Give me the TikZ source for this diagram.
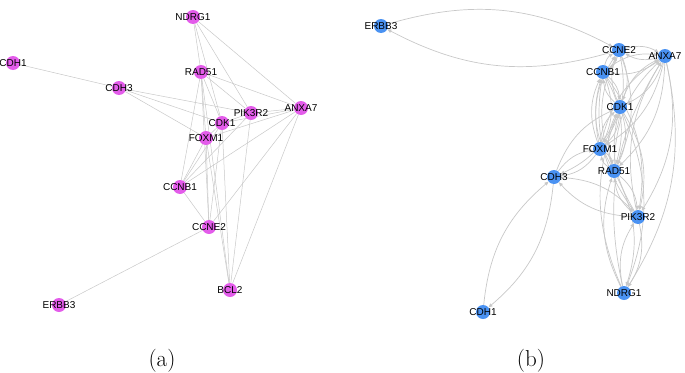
\documentclass[tikz,border=0pt]{standalone}
\usepackage{fontspec}
\setsansfont{Liberation Sans}
\usepackage{xcolor}
\usepackage{tikz}
\usetikzlibrary{arrows.meta, backgrounds}

\definecolor{genepink}{HTML}{E35CEA}
\definecolor{geneblue}{HTML}{4A92F2}
\definecolor{linkgray}{HTML}{C8C8C8}

\tikzset{
  gene/.style={circle, minimum size=14pt, inner sep=0pt, draw=none,
    label={[font=\sffamily\fontsize{10}{10}\selectfont, inner sep=0pt]center:#1}},
  geneA/.style={gene=#1, fill=genepink},
  geneB/.style={gene=#1, fill=geneblue},
  linkA/.style={draw=linkgray, line width=0.5pt},
  linkB/.style={draw=linkgray, line width=0.7pt,
    -{Triangle[length=4pt,width=3.5pt]}, bend left=22},
  caption/.style={font=\fontsize{23}{23}\selectfont, anchor=base}
}

\begin{document}
\begin{tikzpicture}[x=1pt, y=-1pt]
       \useasboundingbox (0,0) rectangle (685,372);

       % (a) undirected network
       \node[geneA=NDRG1]  (aNDRG1)  at (193,17)  {};
       \node[geneA=CDH1]   (aCDH1)   at (13,63)   {};
       \node[geneA=RAD51]  (aRAD51)  at (201,72)  {};
       \node[geneA=CDH3]   (aCDH3)   at (119,88)  {};
       \node[geneA=PIK3R2] (aPIK3R2) at (251,113) {};
       \node[geneA=ANXA7]  (aANXA7)  at (301,108) {};
       \node[geneA=CDK1]   (aCDK1)   at (222,123) {};
       \node[geneA=FOXM1]  (aFOXM1)  at (206,138) {};
       \node[geneA=CCNB1]  (aCCNB1)  at (180,187) {};
       \node[geneA=CCNE2]  (aCCNE2)  at (209,227) {};
       \node[geneA=BCL2]   (aBCL2)   at (230,290) {};
       \node[geneA=ERBB3]  (aERBB3)  at (59,305)  {};

       \begin{pgfonlayer}{background}
       \foreach \u/\v in {CDH1/CDH3, CDH3/PIK3R2, CDH3/CDK1, CDH3/FOXM1,
           NDRG1/RAD51, NDRG1/CDK1, NDRG1/PIK3R2, NDRG1/ANXA7,
           RAD51/ANXA7, RAD51/PIK3R2, RAD51/CDK1, RAD51/FOXM1, RAD51/CCNB1,
           RAD51/CCNE2, RAD51/BCL2, PIK3R2/ANXA7, PIK3R2/CDK1, PIK3R2/CCNB1,
           PIK3R2/BCL2, ANXA7/CDK1, ANXA7/FOXM1, ANXA7/CCNB1, ANXA7/BCL2,
           ANXA7/CCNE2, FOXM1/CCNB1, FOXM1/CCNE2, FOXM1/BCL2, CDK1/FOXM1,
           CDK1/CCNB1, CDK1/CCNE2, CDK1/BCL2, CCNB1/CCNE2, CCNE2/ERBB3}
         \draw[linkA] (a\u) -- (a\v);
       \end{pgfonlayer}

       % (b) directed network
       \node[geneB=ERBB3]  (bERBB3)  at (381,26)  {};
       \node[geneB=CCNE2]  (bCCNE2)  at (619,50)  {};
       \node[geneB=ANXA7]  (bANXA7)  at (665,56)  {};
       \node[geneB=CCNB1]  (bCCNB1)  at (603,72)  {};
       \node[geneB=CDK1]   (bCDK1)   at (620,107) {};
       \node[geneB=FOXM1]  (bFOXM1)  at (600,149) {};
       \node[geneB=RAD51]  (bRAD51)  at (614,171) {};
       \node[geneB=CDH3]   (bCDH3)   at (554,177) {};
       \node[geneB=PIK3R2] (bPIK3R2) at (638,217) {};
       \node[geneB=NDRG1]  (bNDRG1)  at (624,293) {};
       \node[geneB=CDH1]   (bCDH1)   at (483,312) {};

       \begin{pgfonlayer}{background}
       \foreach \u/\v in {CDH1/CDH3, CDH3/PIK3R2, CDH3/CDK1, CDH3/FOXM1,
           NDRG1/RAD51, NDRG1/CDK1, NDRG1/PIK3R2, NDRG1/ANXA7,
           RAD51/ANXA7, RAD51/PIK3R2, RAD51/CDK1, RAD51/FOXM1, RAD51/CCNB1,
           RAD51/CCNE2, PIK3R2/ANXA7, PIK3R2/CDK1, PIK3R2/CCNB1,
           ANXA7/CDK1, ANXA7/FOXM1, ANXA7/CCNB1, ANXA7/CCNE2,
           FOXM1/CCNB1, FOXM1/CCNE2, CDK1/FOXM1, CDK1/CCNB1, CDK1/CCNE2,
           CCNB1/CCNE2, CCNE2/ERBB3}
         {
         \draw[linkB] (b\u) to (b\v);
         \draw[linkB] (b\v) to (b\u);
         }
       \end{pgfonlayer}

       \node[caption] (capA) at (162,366) {(a)};
       \node[caption] (capB) at (531,366) {(b)};
    \end{tikzpicture}
\end{document}
